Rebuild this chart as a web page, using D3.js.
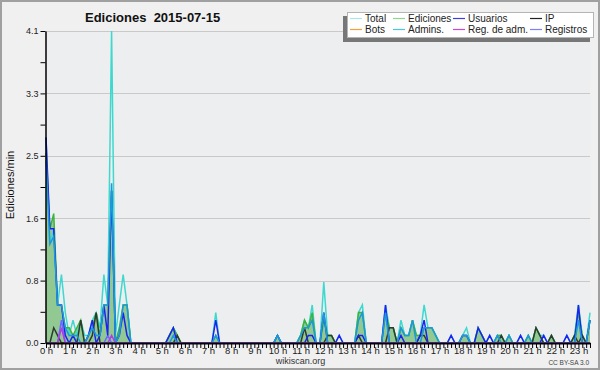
<!DOCTYPE html>
<html><head><meta charset="utf-8">
<script src="https://cdn.jsdelivr.net/npm/d3@7/dist/d3.min.js"></script>
<style>body{margin:0;background:#f0f0f0}svg{display:block}text{font-family:"Liberation Sans",Arial,sans-serif}</style>
</head><body><svg id="c" width="600" height="370"></svg>
<script>
// 10-minute slots from 00:00 to 23:30 (142 points), values in edits/min
const hourLabels = ["0 h","1 h","2 h","3 h","4 h","5 h","6 h","7 h","8 h","9 h","10 h","11 h","12 h","13 h","14 h","15 h","16 h","17 h","18 h","19 h","20 h","21 h","22 h","23 h"];
const yTickLabels = ["0.0","0.8","1.6","2.5","3.3","4.1"];
const seriesNames = ["Total","Ediciones","Usuarios","IP","Bots","Admins.","Reg. de adm.","Registros"];

const total = [
2.7,1.3,1.5,0.5,0.9,0.4,0.1,0.3,0.1,0.3,0.1,0.1,
0.3,0.4,0.2,0.9,0.5,4.1,0.1,0.5,0.9,0.5,0,0,
0,0,0,0,0,0,0,0,0.1,0.2,0.1,0,
0,0,0,0,0,0,0,0,0.4,0,0,0,
0,0,0,0,0,0,0,0,0,0,0,0,
0.1,0,0,0,0,0,0.1,0.3,0.2,0.5,0,0,
0.8,0.1,0.1,0,0.1,0,0,0,0,0.4,0.5,0,
0,0,0,0,0.5,0.2,0.2,0,0.3,0.1,0.1,0.3,
0.1,0.1,0.5,0.2,0.2,0.1,0,0,0,0.1,0,0,
0.1,0.2,0,0,0.2,0.1,0,0.1,0,0.1,0.1,0,
0.1,0,0,0.1,0,0.1,0,0.2,0.1,0.1,0,0.1,
0,0,0,0.1,0,0.1,0.5,0.1,0,0.4];
const ediciones = [
2.5,1.5,1.7,0.5,0.5,0.2,0.2,0.1,0.2,0.3,0,0.1,
0.2,0.4,0.1,0.5,0.5,2.0,0,0.2,0.5,0.5,0,0,
0,0,0,0,0,0,0,0,0.1,0.2,0.1,0,
0,0,0,0,0,0,0,0,0.1,0,0,0,
0,0,0,0,0,0,0,0,0,0,0,0,
0.1,0,0,0,0,0,0.1,0.3,0.2,0.4,0,0,
0.3,0.1,0.1,0,0,0,0,0,0,0.4,0.4,0,
0,0,0,0,0.4,0.2,0.2,0,0.2,0.1,0.1,0.3,
0.1,0.1,0.2,0.2,0.2,0.1,0,0,0,0,0,0,
0.1,0.1,0,0,0.2,0.1,0,0,0,0.1,0.1,0,
0.1,0,0,0,0,0.1,0,0.2,0.1,0,0,0.1,
0,0,0,0,0,0.1,0.4,0.1,0,0.3];
const usuarios = [
2.7,1.5,1.5,0.5,0.5,0.1,0,0.1,0,0,0,0.1,
0.3,0,0.1,0.5,0.1,2.0,0,0.1,0.4,0.1,0,0,
0,0,0,0,0,0,0,0,0.1,0.2,0,0,
0,0,0,0,0,0,0,0,0.3,0,0,0,
0,0,0,0,0,0,0,0,0,0,0,0,
0.1,0,0,0,0,0,0,0,0.1,0.1,0,0,
0.4,0,0,0,0.1,0,0,0,0,0.1,0.1,0,
0,0,0,0,0.5,0,0,0,0.1,0,0,0,
0,0.1,0.3,0,0,0,0,0,0,0.1,0,0,
0.1,0.1,0,0,0.2,0.1,0,0.1,0,0,0,0,
0,0,0,0.1,0,0,0,0,0,0.1,0,0,
0,0,0,0.1,0,0,0.5,0,0,0.3];
const ip = [
0,0,0.2,0.1,0,0,0,0,0,0.3,0,0,
0.1,0.4,0,0,0,0,0,0,0,0,0,0,
0,0,0,0,0,0,0,0,0,0,0.1,0,
0,0,0,0,0,0,0,0,0,0,0,0,
0,0,0,0,0,0,0,0,0,0,0,0,
0,0,0,0,0,0,0,0.2,0,0,0,0,
0,0.1,0.1,0,0,0,0,0,0,0.1,0,0,
0,0,0,0,0,0.2,0.2,0,0,0,0,0,
0,0.1,0.1,0,0,0,0,0,0,0,0,0,
0,0,0,0,0,0,0,0,0,0,0.1,0,
0,0,0,0,0,0,0,0.2,0.1,0,0,0.1,
0,0,0,0,0,0.1,0,0.1,0,0];
const bots = [
0,0,0,0,0,0,0,0,0,0,0,0,
0,0,0,0,0,0,0,0,0,0,0,0,
0,0,0,0,0,0,0,0,0,0,0,0,
0,0,0,0,0,0,0,0,0,0,0,0,
0,0,0,0,0,0,0,0,0,0,0,0,
0,0,0,0,0,0,0,0,0,0,0,0,
0,0,0,0,0,0,0,0,0,0,0,0,
0,0,0,0,0,0,0,0,0,0,0,0,
0,0,0,0,0,0,0,0,0,0,0,0,
0,0,0,0,0,0,0,0,0,0,0,0,
0,0,0,0,0,0,0,0,0,0,0,0,
0,0,0,0,0,0,0,0,0,0];
const admins = [
2.4,1.3,1.4,0.5,0.5,0.2,0.1,0.1,0.1,0,0,0.1,
0.2,0.1,0.1,0.5,0.5,2.1,0,0.1,0.5,0.5,0,0,
0,0,0,0,0,0,0,0,0,0.1,0,0,
0,0,0,0,0,0,0,0,0.1,0,0,0,
0,0,0,0,0,0,0,0,0,0,0,0,
0.1,0,0,0,0,0,0.1,0.2,0.2,0.3,0,0,
0.4,0,0,0,0,0,0,0,0,0.3,0.4,0,
0,0,0,0,0.4,0,0,0,0.2,0.1,0.1,0.3,
0,0,0.2,0.2,0.2,0.1,0,0,0,0,0,0,
0.1,0.1,0,0,0,0,0,0,0,0.1,0,0,
0.1,0,0,0,0,0.1,0,0,0,0,0,0,
0,0,0,0,0,0,0.3,0,0,0.3];
const regAdm = [
0,0,0,0,0.2,0,0,0,0,0,0,0,
0,0,0,0,0,0.1,0,0,0,0,0,0,
0,0,0,0,0,0,0,0,0,0,0,0,
0,0,0,0,0,0,0,0,0,0,0,0,
0,0,0,0,0,0,0,0,0,0,0,0,
0,0,0,0,0,0,0,0,0,0,0,0,
0,0,0,0,0,0,0,0,0,0,0,0,
0,0,0,0,0,0,0,0,0,0,0,0,
0,0,0,0,0,0,0,0,0,0,0,0,
0,0,0,0,0,0,0,0,0,0,0,0,
0,0,0,0,0,0,0,0,0,0,0,0,
0,0,0,0,0,0,0,0,0,0];
const registros = [
0,0,0,0,0.3,0,0,0,0,0,0,0,
0,0,0,0,0.1,0,0,0,0,0,0,0,
0,0,0,0,0,0,0,0,0,0,0,0,
0,0,0,0,0,0,0,0,0,0,0,0,
0,0,0,0,0,0,0,0,0,0,0,0,
0,0,0,0,0,0,0,0,0,0,0,0,
0,0,0,0,0,0,0,0,0,0,0,0,
0,0,0,0,0,0,0,0,0,0,0,0,
0,0,0,0,0,0,0,0,0,0,0,0,
0,0,0,0,0,0,0,0,0,0,0,0,
0,0,0,0,0,0,0,0,0,0,0,0,
0,0,0,0,0,0,0,0,0,0];

const svg = d3.select("#c");
const W = 600, H = 370;
svg.append("rect").attr("x",1).attr("y",1).attr("width",W-2).attr("height",H-2)
  .attr("fill","#f0f0f0").attr("stroke","#a0a0a0").attr("stroke-width",2);

const x = d3.scaleLinear().domain([0, 23.5]).range([46, 590]);
const y = d3.scaleLinear().domain([0, 4.1]).range([343, 31]);
const slotHour = i => i / 6;

// plot background
svg.append("rect").attr("x",46).attr("y",31).attr("width",544).attr("height",312).attr("fill","#edeef0");

// gridlines
const gridVals = yTickLabels.map((_, k) => k * 4.1 / 5).slice(1);
svg.append("g").selectAll("line").data(gridVals).join("line")
  .attr("x1",46).attr("x2",590).attr("y1",d=>Math.round(y(d))+0.5).attr("y2",d=>Math.round(y(d))+0.5)
  .attr("stroke","#c9c9c9").attr("stroke-width",1);

// ediciones area
svg.append("path").datum(ediciones)
  .attr("d", d3.area().x((d,i)=>x(slotHour(i))).y0(y(0)).y1(d=>y(d)))
  .attr("fill","#92c992");

const line = d3.line().x((d,i)=>x(slotHour(i))).y(d=>y(d));
const drawOrder = [
  [bots, "#ffa030"],
  [total, "#3fd8cf"],
  [ediciones, "#3cb43c"],
  [ip, "#2f3a2f"],
  [registros, "#6a6aff"],
  [usuarios, "#1c22f2"],
  [admins, "#1e98dc"],
  [regAdm, "#b43ce6"]
];
svg.append("g").selectAll("path").data(drawOrder).join("path")
  .attr("d", d=>line(d[0])).attr("fill","none").attr("stroke", d=>d[1])
  .attr("stroke-width",1.5).attr("stroke-linejoin","miter");

// y axis
const yTicks = d3.range(11).map(k => k * 0.41);
const yAxis = svg.append("g").attr("transform","translate(45.5,0)")
  .call(d3.axisLeft(y).tickValues(yTicks).tickSize(5).tickSizeOuter(0).tickPadding(2)
    .tickFormat((d,i)=> i % 2 === 0 ? yTickLabels[i/2] : ""));
yAxis.select(".domain").attr("stroke","#000").attr("stroke-width",1.5);
yAxis.selectAll("text").attr("font-size",9).attr("fill","#222").attr("font-family","Liberation Sans, Arial");

// x axis
const xTicks = d3.range(142).map(i => slotHour(i));
const xAxis = svg.append("g").attr("transform","translate(0,343)")
  .call(d3.axisBottom(x).tickValues(xTicks).tickSize(5).tickSizeOuter(0)
    .tickFormat((d,i)=> i % 6 === 0 ? hourLabels[i/6] : ""));
xAxis.select(".domain").attr("stroke","#000").attr("stroke-width",2);
xAxis.selectAll("text").attr("font-size",9.5).attr("fill","#222").attr("dy",0).attr("y",11)
  .attr("font-family","Liberation Sans, Arial");

// title
svg.append("text").attr("x",85).attr("y",22).attr("font-size",13).attr("font-weight","bold")
  .attr("fill","#111").style("white-space","pre").text("Ediciones  2015-07-15");

// y label
svg.append("text").attr("transform","translate(14,185) rotate(-90)").attr("text-anchor","middle")
  .attr("font-family","DejaVu Sans Mono, monospace").attr("font-size",11).attr("fill","#111")
  .text("Ediciones/min");

// footer
svg.append("text").attr("x",300.5).attr("y",364).attr("text-anchor","middle").attr("font-size",9)
  .attr("fill","#333").text("wikiscan.org");
svg.append("text").attr("x",589).attr("y",365).attr("text-anchor","end").attr("font-size",6.5)
  .attr("fill","#444").text("CC BY-SA 3.0");

// legend
const lg = svg.append("g");
lg.append("rect").attr("x",343).attr("y",16).attr("width",247).attr("height",26).attr("fill","#777");
lg.append("rect").attr("x",347.5).attr("y",12.5).attr("width",246).attr("height",25)
  .attr("fill","#fff").attr("stroke","#b4b4b4");
const legendColors = ["#ade6e6","#8fd68f","#3c3ce8","#222","#f6a23c","#4cc6de","#c846dc","#8080f6"];
const colX = [350, 393, 453, 530];
const rowY = [18.5, 29.5];
const items = seriesNames.map((n,k)=>({n, c:legendColors[k], col:k%4, row:Math.floor(k/4)}));
const it = lg.selectAll("g.it").data(items).join("g").attr("class","it");
it.append("line").attr("x1",d=>colX[d.col]).attr("x2",d=>colX[d.col]+12)
  .attr("y1",d=>rowY[d.row]).attr("y2",d=>rowY[d.row]).attr("stroke",d=>d.c).attr("stroke-width",1.2);
it.append("text").attr("x",d=>colX[d.col]+15).attr("y",d=>rowY[d.row]+3.5).attr("font-size",10)
  .attr("fill","#222").text(d=>d.n);
</script></body></html>
